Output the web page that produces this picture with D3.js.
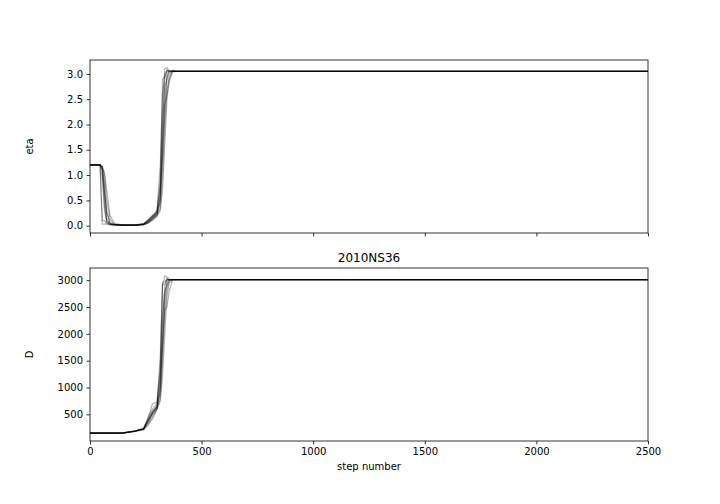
<!DOCTYPE html>
<html>
<head>
<meta charset="utf-8">
<script src="https://cdn.jsdelivr.net/npm/d3@7"></script>
<style>
  body { margin: 0; background: #fff; }
  text { font-family: "DejaVu Sans", sans-serif; fill: #000; }
</style>
</head>
<body>
<div id="chart"></div>
<script>
// walker traces, sampled at these step numbers
var steps = [0, 45, 55, 65, 75, 90, 110, 150, 200, 240, 260, 280, 300, 315, 325, 335, 345, 355, 370, 390, 2500];

var etaWalkers = [
  [1.2, 1.2, 1.15, 0.7, 0.25, 0.06, 0.02, 0.01, 0.01, 0.02, 0.07, 0.14, 0.22, 0.45, 1.4, 2.5, 2.95, 3.04, 3.05, 3.05, 3.05],
  [1.2, 1.2, 0.03, 0.03, 0.03, 0.02, 0.02, 0.01, 0.01, 0.03, 0.1, 0.17, 0.28, 0.8, 2.3, 3.1, 3.12, 3.06, 3.05, 3.05, 3.05],
  [1.2, 1.19, 1.17, 1.0, 0.5, 0.12, 0.03, 0.01, 0.01, 0.02, 0.05, 0.12, 0.2, 0.35, 1.0, 2.0, 2.7, 2.95, 3.06, 3.05, 3.05],
  [1.2, 1.2, 0.95, 0.3, 0.06, 0.02, 0.01, 0.01, 0.01, 0.04, 0.12, 0.2, 0.3, 1.2, 2.6, 3.0, 3.07, 3.06, 3.05, 3.05, 3.05],
  [1.2, 1.2, 1.1, 0.55, 0.08, 0.04, 0.02, 0.01, 0.01, 0.02, 0.06, 0.15, 0.25, 0.6, 1.8, 2.9, 3.08, 3.05, 3.05, 3.05, 3.05],
  [1.2, 1.2, 1.16, 0.85, 0.15, 0.03, 0.02, 0.01, 0.01, 0.03, 0.09, 0.16, 0.24, 0.5, 1.6, 2.4, 2.6, 2.85, 3.04, 3.05, 3.05],
  [1.2, 1.2, 1.17, 1.05, 0.7, 0.2, 0.04, 0.01, 0.01, 0.02, 0.05, 0.1, 0.18, 0.3, 0.7, 1.6, 2.5, 2.9, 3.07, 3.05, 3.05],
  [1.2, 1.2, 0.1, 0.1, 0.04, 0.03, 0.02, 0.01, 0.01, 0.03, 0.08, 0.2, 0.27, 0.9, 2.9, 2.95, 3.06, 3.05, 3.05, 3.05, 3.05],
  [1.2, 1.2, 1.12, 0.4, 0.1, 0.02, 0.01, 0.01, 0.01, 0.02, 0.07, 0.13, 0.21, 0.55, 2.0, 2.75, 2.9, 3.02, 3.06, 3.05, 3.05],
  [1.2, 1.2, 1.14, 0.65, 0.3, 0.05, 0.02, 0.01, 0.01, 0.04, 0.11, 0.18, 0.25, 0.7, 1.3, 2.2, 3.0, 3.06, 3.05, 3.05, 3.05]
];

var dWalkers = [
  [150, 150, 150, 150, 150, 150, 150, 155, 185, 220, 360, 510, 620, 950, 1900, 2750, 2960, 3005, 3010, 3010, 3010],
  [150, 150, 150, 150, 150, 150, 150, 155, 190, 230, 400, 560, 650, 1300, 2900, 3080, 3060, 3010, 3010, 3010, 3010],
  [150, 150, 150, 150, 150, 150, 150, 152, 180, 215, 320, 450, 600, 800, 1500, 2400, 2850, 2980, 3012, 3010, 3010],
  [150, 150, 150, 150, 150, 150, 150, 156, 188, 240, 450, 600, 700, 1600, 2950, 2980, 3015, 3010, 3010, 3010, 3010],
  [150, 150, 150, 150, 150, 150, 150, 154, 185, 225, 380, 520, 640, 1000, 2200, 2900, 3030, 3010, 3010, 3010, 3010],
  [150, 150, 150, 150, 150, 150, 150, 155, 187, 228, 350, 500, 610, 900, 1700, 2450, 2500, 2800, 3005, 3010, 3010],
  [150, 150, 150, 150, 150, 150, 150, 153, 182, 218, 300, 420, 580, 750, 1200, 2000, 2700, 2950, 3015, 3010, 3010],
  [150, 150, 150, 150, 150, 150, 150, 155, 190, 235, 420, 700, 720, 1400, 2920, 2930, 3020, 3010, 3010, 3010, 3010],
  [150, 150, 150, 150, 150, 150, 150, 154, 186, 222, 370, 530, 630, 1100, 2300, 2800, 2900, 3000, 3012, 3010, 3010],
  [150, 150, 150, 150, 150, 150, 150, 156, 189, 232, 400, 550, 660, 1200, 1800, 2600, 2990, 3010, 3010, 3010, 3010]
];

var stepTicks = [0, 500, 1000, 1500, 2000, 2500];
var etaTicks = [0.0, 0.5, 1.0, 1.5, 2.0, 2.5, 3.0];
var dTicks = [500, 1000, 1500, 2000, 2500, 3000];

var width = 720, height = 504;
var left = 90, right = 648;

var svg = d3.select('#chart').append('svg')
    .attr('width', width)
    .attr('height', height);

var x = d3.scaleLinear().domain([0, 2500]).range([left, right]);

// matplotlib style 5% margins on y
function padded(walkers) {
  var lo = d3.min(walkers, function(w) { return d3.min(w); });
  var hi = d3.max(walkers, function(w) { return d3.max(w); });
  var m = (hi - lo) * 0.05;
  return [lo - m, hi + m];
}

function panel(top, bottom, walkers, yTicks, fmt, label, showX) {
  var y = d3.scaleLinear().domain(padded(walkers)).range([bottom, top]);
  var g = svg.append('g');

  var line = d3.line()
      .x(function(d, i) { return x(steps[i]); })
      .y(function(d) { return y(d); });

  g.selectAll('.walker')
    .data(walkers)
    .enter().append('path')
      .attr('class', 'walker')
      .attr('d', line)
      .attr('fill', 'none')
      .attr('stroke', '#000')
      .attr('stroke-opacity', 0.3)
      .attr('stroke-width', 1.2);

  var xAxis = d3.axisBottom(x).tickValues(stepTicks).tickFormat(d3.format('d'))
      .tickSize(3.5).tickPadding(3.5).tickSizeOuter(0);
  if (!showX) xAxis.tickFormat('');
  var gx = g.append('g').attr('transform', 'translate(0,' + bottom + ')').call(xAxis);

  var yAxis = d3.axisLeft(y).tickValues(yTicks).tickFormat(fmt).tickSize(3.5).tickPadding(3.5).tickSizeOuter(0);
  var gy = g.append('g').attr('transform', 'translate(' + left + ',0)').call(yAxis);

  [gx, gy].forEach(function(a) {
    a.select('.domain').remove();
    a.selectAll('.tick line').attr('stroke', '#000').attr('stroke-width', 0.8);
    a.selectAll('.tick text').style('font-family', '"DejaVu Sans", sans-serif').style('font-size', '10px').attr('fill', '#000');
  });

  g.append('rect')
    .attr('x', left).attr('y', top)
    .attr('width', right - left).attr('height', bottom - top)
    .attr('fill', 'none')
    .attr('stroke', '#000')
    .attr('stroke-width', 0.8);

  g.append('text')
    .attr('transform', 'translate(33,' + (top + bottom) / 2 + ') rotate(-90)')
    .attr('text-anchor', 'middle')
    .style('font-size', '10px')
    .text(label);
}

panel(60, 233, etaWalkers, etaTicks, d3.format('.1f'), 'eta', false);
panel(268, 441, dWalkers, dTicks, d3.format('d'), 'D', true);

svg.append('text')
  .attr('x', (left + right) / 2)
  .attr('y', 262)
  .attr('text-anchor', 'middle')
  .style('font-size', '12px')
  .text('2010NS36');

svg.append('text')
  .attr('x', (left + right) / 2)
  .attr('y', 470)
  .attr('text-anchor', 'middle')
  .style('font-size', '10px')
  .text('step number');
</script>
</body>
</html>
